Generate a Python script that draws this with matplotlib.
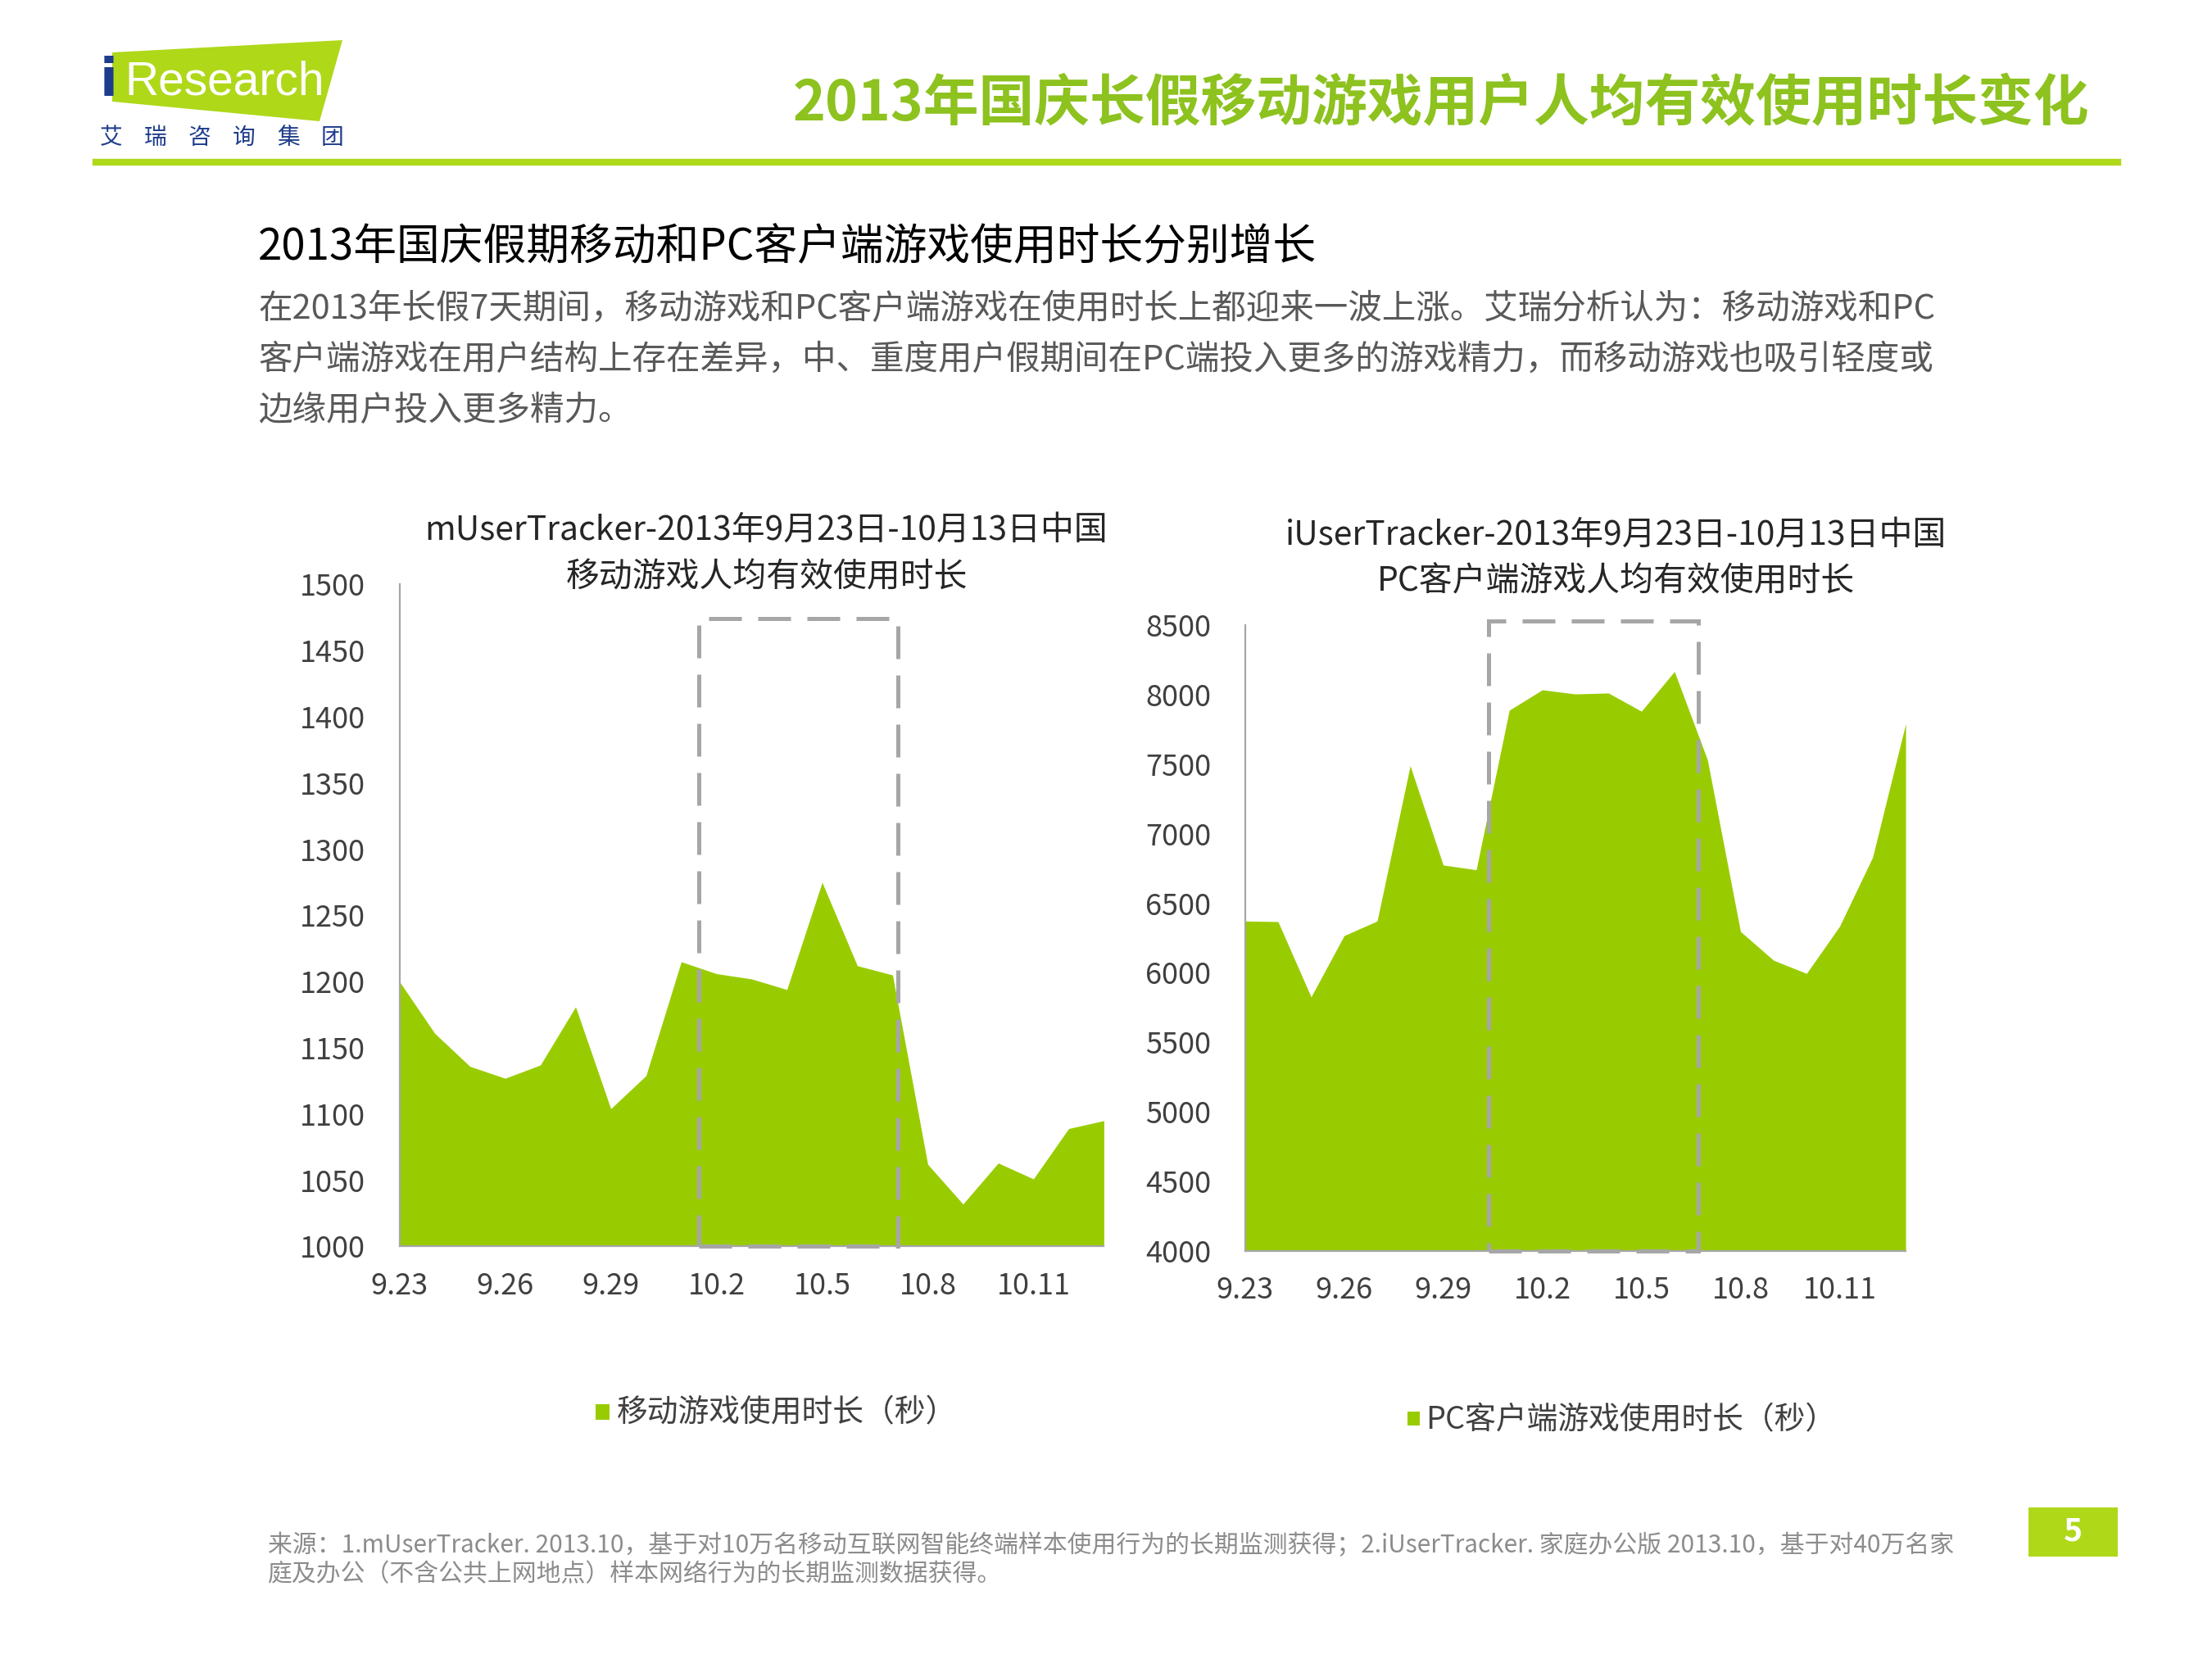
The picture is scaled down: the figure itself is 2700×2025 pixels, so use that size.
import matplotlib
matplotlib.use("Agg")
import matplotlib.pyplot as plt
from matplotlib.patches import Rectangle, Polygon
import numpy as np

plt.rcParams['font.family'] = ['Noto Sans CJK SC', 'DejaVu Sans']

# ---------------- data ----------------
dates = ['9.23', '9.24', '9.25', '9.26', '9.27', '9.28', '9.29', '9.30',
         '10.1', '10.2', '10.3', '10.4', '10.5', '10.6', '10.7', '10.8',
         '10.9', '10.10', '10.11', '10.12', '10.13']
mobile_seconds = [1200, 1161, 1136, 1127, 1137, 1181, 1104, 1129, 1215, 1206,
                  1202, 1194, 1275, 1212, 1205, 1062, 1032, 1063, 1051, 1089, 1095]
pc_seconds = [6372, 6368, 5826, 6267, 6372, 7490, 6775, 6741, 7889, 8036,
              8006, 8013, 7882, 8168, 7532, 6297, 6090, 5995, 6334, 6831, 7791]
mobile_yticks = [1000, 1050, 1100, 1150, 1200, 1250, 1300, 1350, 1400, 1450, 1500]
pc_yticks = [4000, 4500, 5000, 5500, 6000, 6500, 7000, 7500, 8000, 8500]
shown_dates = ['9.23', '9.26', '9.29', '10.2', '10.5', '10.8', '10.11']

main_title = '2013年国庆长假移动游戏用户人均有效使用时长变化'
subtitle = '2013年国庆假期移动和PC客户端游戏使用时长分别增长'
body_lines = ['在2013年长假7天期间，移动游戏和PC客户端游戏在使用时长上都迎来一波上涨。艾瑞分析认为：移动游戏和PC',
              '客户端游戏在用户结构上存在差异，中、重度用户假期间在PC端投入更多的游戏精力，而移动游戏也吸引轻度或',
              '边缘用户投入更多精力。']
left_title = 'mUserTracker-2013年9月23日-10月13日中国\n移动游戏人均有效使用时长'
right_title = 'iUserTracker-2013年9月23日-10月13日中国\nPC客户端游戏人均有效使用时长'
left_legend = '移动游戏使用时长（秒）'
right_legend = 'PC客户端游戏使用时长（秒）'
footnote = ['来源：1.mUserTracker. 2013.10，基于对10万名移动互联网智能终端样本使用行为的长期监测获得；2.iUserTracker. 家庭办公版 2013.10，基于对40万名家',
            '庭及办公（不含公共上网地点）样本网络行为的长期监测数据获得。']

# ---------------- style ----------------
W, H = 2700, 2025
K = 1.723  # layout unit -> pixel
FILL = '#99CC00'
TITLE_GREEN = '#8DC21F'
LINE_GREEN = '#AFD819'
NAVY = '#1E3C8C'
GRID_GRAY = '#A6A6A6'
TXT = '#404040'

fig = plt.figure(figsize=(27, 20.25), dpi=100)
fig.patch.set_facecolor('white')

def px(x):
    return x / W

def py(y):
    return 1 - y / H

def ux(u):
    return u * K / W

def uy(u):
    return 1 - u * K / H

# header: logo (pixel coordinates)
logo = Polygon([[px(137), py(64)], [px(418), py(49)], [px(390), py(148)], [px(137), py(124)]],
               closed=True, transform=fig.transFigure, facecolor=LINE_GREEN, edgecolor='none')
fig.patches.append(logo)
fig.text(px(122), py(99), 'i', color=NAVY, fontsize=46, fontweight='bold',
         family=['DejaVu Sans'], va='center', ha='left')
fig.text(px(152), py(101), 'Research', color='white', fontsize=41,
         family=['Liberation Sans'], va='center', ha='left')
for i, ch in enumerate('艾瑞咨询集团'):
    fig.text(px(122 + i * 54), py(168), ch, color=NAVY, fontsize=20, va='center', ha='left')

fig.text(ux(1480), uy(74), main_title, color=TITLE_GREEN, fontsize=48.8, fontweight='bold',
         ha='right', va='center')
fig.add_artist(plt.Line2D([ux(68), ux(1500)], [uy(115), uy(115)], color=LINE_GREEN,
                          linewidth=6, transform=fig.transFigure))

fig.text(ux(183), uy(175), subtitle, color='black', fontsize=38, fontweight='medium',
         ha='left', va='center')
for i, line in enumerate(body_lines):
    fig.text(ux(183), uy(219 + i * 36), line, color='#595959', fontsize=29.9,
             ha='left', va='center')

# ---------------- charts ----------------
def make_chart(box_u, values, ylo, yhi, yticks, bx0, bx1, btop, title, title_u):
    x0, y0, x1, y1 = box_u  # left, top, right, bottom in layout units
    ax = fig.add_axes([ux(x0), uy(y1), (x1 - x0) * K / W, (y1 - y0) * K / H])
    x = np.arange(len(dates))
    ax.fill_between(x, ylo, values, color=FILL, linewidth=0, zorder=2)
    ax.set_xlim(0, len(dates) - 1)
    ax.set_ylim(ylo, yhi)
    ax.set_yticks(yticks)
    ax.set_yticklabels([str(v) for v in yticks])
    pos = [dates.index(d) for d in shown_dates]
    ax.set_xticks(pos)
    ax.set_xticklabels(shown_dates)
    ax.tick_params(axis='both', length=0, labelsize=26, colors=TXT)
    ax.tick_params(axis='y', pad=30)
    ax.tick_params(axis='x', pad=22)
    for s in ['top', 'right']:
        ax.spines[s].set_visible(False)
    for s in ['left', 'bottom']:
        ax.spines[s].set_color(GRID_GRAY)
        ax.spines[s].set_linewidth(1.6)
        ax.spines[s].set_zorder(3)
    ax.patch.set_alpha(0)
    ax.add_patch(Rectangle((bx0, ylo), bx1 - bx0, btop - ylo, fill=False,
                           edgecolor=GRID_GRAY, linewidth=3.6, linestyle=(0, (8, 4)),
                           clip_on=False, zorder=4))
    fig.text(ux(title_u[0]), uy(title_u[1]), title, color='#262626', fontsize=29.4,
             ha='center', va='center', linespacing=1.5)
    return ax

axL = make_chart((283, 414, 782, 883), mobile_seconds, 1000, 1500, mobile_yticks,
                 8.5, 14.15, 1474, left_title, (543, 392.5))
axR = make_chart((882, 443, 1350, 886), pc_seconds, 4000, 8500, pc_yticks,
                 7.37, 13.72, 8530, right_title, (1145, 395.5))

# legends
fig.add_artist(Rectangle((ux(422), uy(1006)), 10 * K / W, 11 * K / H, transform=fig.transFigure,
                         facecolor=FILL, edgecolor='none'))
fig.text(ux(437), uy(1000.5), left_legend, color=TXT, fontsize=27.2, ha='left', va='center')
fig.add_artist(Rectangle((ux(997), uy(1010)), 9 * K / W, 10 * K / H, transform=fig.transFigure,
                         facecolor=FILL, edgecolor='none'))
fig.text(ux(1010), uy(1005.5), right_legend, color=TXT, fontsize=27.2, ha='left', va='center')

# footnote
for i, line in enumerate(footnote):
    fig.text(ux(190), uy(1095 + i * 20), line, color='#8C8C8C', fontsize=21.5,
             ha='left', va='center')

# page number
fig.add_artist(Rectangle((ux(1437), uy(1103)), 63 * K / W, 35 * K / H, transform=fig.transFigure,
                         facecolor=LINE_GREEN, edgecolor='none'))
fig.text(ux(1468.5), uy(1085), '5', color='white', fontsize=28, fontweight='bold',
         ha='center', va='center')

fig.savefig('out.png', dpi=100, facecolor='white')
